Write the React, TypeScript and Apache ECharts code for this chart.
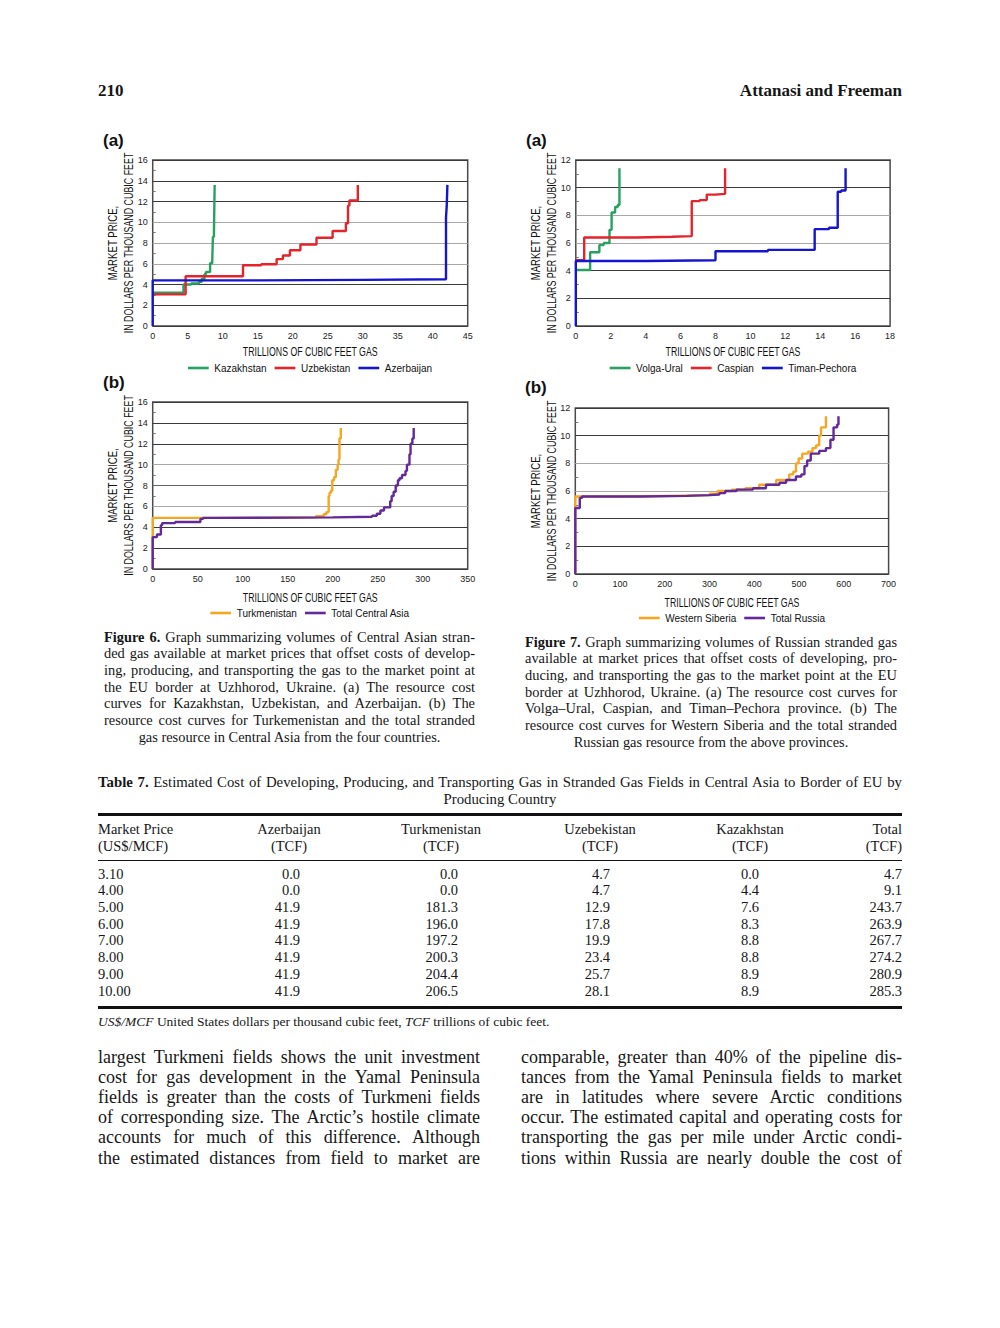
import React, { useEffect, useRef } from "react";
import * as echarts from "echarts";

type Pt = [number, number];

const CF = "'Liberation Sans',Arial,sans-serif";
const SERIF = "'Liberation Serif','Times New Roman',serif";

// ---- Figure 6 (a): Central Asia by country (x: TCF, y: $/MCF), step points
const kazakhstan: Pt[] = [[0, 3.2], [4.4, 4.0], [5.5, 4.1], [6.6, 4.25], [7.0, 4.55], [7.4, 5.0], [7.6, 5.2], [8.2, 6.05], [8.5, 6.15], [8.6, 8.6], [8.75, 9.0], [8.85, 13.6]];
const uzbekistan: Pt[] = [[0, 3.05], [4.7, 4.8], [12.9, 5.85], [15.5, 5.95], [17.7, 6.45], [18.6, 6.8], [19.6, 7.3], [21.1, 7.85], [23.4, 8.5], [25.7, 9.15], [27.6, 9.9], [27.9, 11.6], [28.1, 12.1], [29.3, 13.6]];
const azerbaijan: Pt[] = [[0, 0], [0, 4.4], [15, 4.45], [30, 4.5], [41.9, 10.5], [42.0, 11.5], [42.1, 13.6]];

// ---- Figure 7 (a): Russian provinces
const volgaUral: Pt[] = [[0, 4.05], [0.82, 5.33], [1.35, 5.85], [1.6, 6.0], [1.93, 6.95], [2.05, 8.2], [2.25, 8.6], [2.4, 8.75], [2.5, 11.4]];
const caspian: Pt[] = [[0, 4.75], [0.48, 6.4], [3.5, 6.45], [5.5, 6.5], [6.64, 9.03], [7.1, 9.1], [7.5, 9.5], [8.0, 9.55], [8.55, 11.4]];
const timanPechora: Pt[] = [[0, 0], [0, 4.7], [4, 4.75], [8.0, 5.4], [11, 5.5], [13.68, 7.0], [14.5, 7.1], [15.0, 9.7], [15.2, 9.8], [15.45, 11.4]];

// ---- Figure 6 (b)
const turkmenistan: Pt[] = [[0, 0], [0, 4.9], [120, 4.95], [181.3, 5.05], [190, 5.25], [193, 5.45], [195.5, 7.0], [196.5, 7.3], [198, 7.5], [199.5, 8.5], [201.5, 8.8], [203.5, 9.5], [205.5, 10.0], [206.5, 10.5], [207.5, 12.5], [209, 13.5]];
const totalCentralAsia: Pt[] = [[0, 0], [0, 3.05], [4.7, 3.3], [9.1, 4.2], [10.5, 4.4], [25, 4.5], [53, 4.8], [56, 4.9], [70, 4.95], [200, 5.0], [243.7, 5.1], [249, 5.3], [253, 5.6], [257, 5.9], [263.9, 6.5], [265.5, 7.0], [267.7, 7.4], [270, 8.0], [272.5, 8.5], [274.2, 8.7], [277, 9.0], [280.9, 9.4], [282.5, 10.0], [285.3, 11.0], [286.5, 12.0], [288.5, 12.5], [290, 13.5]];

// ---- Figure 7 (b)
const westernSiberia: Pt[] = [[0, 0], [0, 5.6], [100, 5.65], [200, 5.7], [300, 5.8], [318, 6.0], [350, 6.1], [380, 6.2], [411, 6.45], [449, 6.8], [478, 7.2], [487, 7.4], [493, 8.0], [499, 8.35], [507, 8.7], [520, 8.85], [530, 9.1], [538, 9.3], [545, 10.0], [549, 10.6], [560, 11.4]];
const totalRussia: Pt[] = [[0, 0], [0, 4.77], [10, 5.5], [15, 5.6], [150, 5.65], [250, 5.7], [300, 5.75], [322, 5.85], [335, 6.0], [360, 6.1], [397, 6.2], [426, 6.45], [456, 6.6], [471, 6.8], [493, 7.05], [505, 7.2], [512, 7.8], [518, 8.2], [526, 8.7], [545, 8.9], [560, 9.1], [570, 9.7], [577, 10.6], [585, 10.8], [588, 11.4]];

// ---- Table 7
const tablePrices = ["3.10", "4.00", "5.00", "6.00", "7.00", "8.00", "9.00", "10.00"];
const tAzerbaijan = [0.0, 0.0, 41.9, 41.9, 41.9, 41.9, 41.9, 41.9];
const tTurkmenistan = [0.0, 0.0, 181.3, 196.0, 197.2, 200.3, 204.4, 206.5];
const tUzbekistan = [4.7, 4.7, 12.9, 17.8, 19.9, 23.4, 25.7, 28.1];
const tKazakhstan = [0.0, 4.4, 7.6, 8.3, 8.8, 8.8, 8.9, 8.9];
const tTotal = [4.7, 9.1, 243.7, 263.9, 267.7, 274.2, 280.9, 285.3];

const GREEN = "#27a060";
const RED = "#e5232a";
const BLUE = "#1515d0";
const ORANGE = "#f5a623";
const PURPLE = "#62299a";
const D = "#3a3a3a";
const L = "#a8a8a8";

interface SeriesDef { name: string; color: string; data: Pt[] }
interface PanelDef {
  tag: string;
  xMax: number; xInterval: number; yMax: number;
  plot: { left: number; top: number; width: number; height: number };
  legendTop: number; xNameY: number; yNameX: [number, number];
  gridColors: string[];
  series: SeriesDef[];
}

function buildOption(p: PanelDef) {
  const cx = p.plot.left + p.plot.width / 2;
  const cy = p.plot.top + p.plot.height / 2;
  return {
    animation: false,
    grid: { ...p.plot, show: true, borderColor: "#4a4a4a", borderWidth: 1.5 },
    xAxis: {
      type: "value", min: 0, max: p.xMax, interval: p.xInterval,
      axisLine: { show: false }, axisTick: { show: false }, splitLine: { show: false },
      axisLabel: { fontFamily: CF, fontSize: 9, color: "#222", margin: 5 },
    },
    yAxis: {
      type: "value", min: 0, max: p.yMax, interval: 2,
      axisLine: { show: false }, axisTick: { show: false, inside: true },
      minorTick: { show: true, splitNumber: 2, length: 3, lineStyle: { color: "#777", width: 1 } },
      splitLine: { show: true, lineStyle: { color: p.gridColors, width: 1.2 } },
      axisLabel: { fontFamily: CF, fontSize: 9, color: "#222", margin: 5 },
    },
    legend: {
      top: p.legendTop, left: "center", padding: 0, itemGap: 8,
      icon: "path://M0,0H24V3H0Z", itemWidth: 22, itemHeight: 2.6,
      textStyle: { fontFamily: CF, fontSize: 10, color: "#111", padding: [0, 0, 0, 0] },
      data: p.series.map((s) => s.name),
    },
    series: p.series.map((s) => ({
      name: s.name, type: "line", step: "end", data: s.data,
      showSymbol: false, symbol: "none",
      lineStyle: { color: s.color, width: 2.4 }, itemStyle: { color: s.color },
    })),
    graphic: [
      { type: "text", left: 8, top: 4, style: { text: p.tag, font: "bold 17px 'Liberation Sans',Arial,sans-serif", fill: "#111" } },
      { type: "text", x: p.yNameX[0], y: cy, rotation: Math.PI / 2, scaleX: 0.77, style: { text: "MARKET PRICE,", font: `12.5px ${CF}`, fill: "#111", align: "center", verticalAlign: "middle" } },
      { type: "text", x: p.yNameX[1], y: cy, rotation: Math.PI / 2, scaleX: 0.71, style: { text: "IN DOLLARS PER THOUSAND CUBIC FEET", font: `12.5px ${CF}`, fill: "#111", align: "center", verticalAlign: "middle" } },
      { type: "text", x: cx, y: p.xNameY, scaleX: 0.7, style: { text: "TRILLIONS OF CUBIC FEET GAS", font: `12.5px ${CF}`, fill: "#111", align: "center", verticalAlign: "middle" } },
    ],
  };
}

function Chart({ panel, left, top, width, height }: { panel: PanelDef; left: number; top: number; width: number; height: number }) {
  const ref = useRef<HTMLDivElement>(null);
  useEffect(() => {
    if (!ref.current) return;
    const chart = echarts.init(ref.current, undefined, { renderer: "svg" });
    chart.setOption(buildOption(panel) as any);
    return () => chart.dispose();
  }, [panel]);
  return <div ref={ref} style={{ position: "absolute", left, top, width, height }} />;
}

const panel1: PanelDef = {
  tag: "(a)", xMax: 45, xInterval: 5, yMax: 16,
  plot: { left: 57.7, top: 32, width: 315, height: 166 },
  legendTop: 235, xNameY: 223, yNameX: [18, 33],
  gridColors: [D, D, D, L, L, L, D, D, D],
  series: [
    { name: "Kazakhstan", color: GREEN, data: kazakhstan },
    { name: "Uzbekistan", color: RED, data: uzbekistan },
    { name: "Azerbaijan", color: BLUE, data: azerbaijan },
  ],
};
const panel2: PanelDef = {
  tag: "(a)", xMax: 18, xInterval: 2, yMax: 12,
  plot: { left: 57.8, top: 32, width: 314.3, height: 166 },
  legendTop: 235, xNameY: 223, yNameX: [18, 33.5],
  gridColors: [D, D, D, L, L, D, D],
  series: [
    { name: "Volga-Ural", color: GREEN, data: volgaUral },
    { name: "Caspian", color: RED, data: caspian },
    { name: "Timan-Pechora", color: BLUE, data: timanPechora },
  ],
};
const panel3: PanelDef = {
  tag: "(b)", xMax: 350, xInterval: 50, yMax: 16,
  plot: { left: 57.7, top: 32, width: 315, height: 167 },
  legendTop: 238, xNameY: 227, yNameX: [18, 33],
  gridColors: [D, D, D, L, "#666", L, D, D, D],
  series: [
    { name: "Turkmenistan", color: ORANGE, data: turkmenistan },
    { name: "Total Central Asia", color: PURPLE, data: totalCentralAsia },
  ],
};
const panel4: PanelDef = {
  tag: "(b)", xMax: 700, xInterval: 100, yMax: 12,
  plot: { left: 58.3, top: 33, width: 313.3, height: 166 },
  legendTop: 238, xNameY: 227, yNameX: [18.5, 34],
  gridColors: [D, D, D, L, L, D, D],
  series: [
    { name: "Western Siberia", color: ORANGE, data: westernSiberia },
    { name: "Total Russia", color: PURPLE, data: totalRussia },
  ],
};

function JLine({ x, y, w, size, lh, children, center }: any) {
  return (
    <div style={{
      position: "absolute", left: x, top: y - lh / 2, width: w, height: lh, lineHeight: `${lh}px`,
      fontSize: size, whiteSpace: "nowrap",
      textAlign: center ? "center" : "justify", textAlignLast: center ? "center" : "justify",
    }}>{children}</div>
  );
}

const fig6Lines: any[] = [
  <><b>Figure 6.</b> Graph summarizing volumes of Central Asian stran-</>,
  "ded gas available at market prices that offset costs of develop-",
  "ing, producing, and transporting the gas to the market point at",
  "the EU border at Uzhhorod, Ukraine. (a) The resource cost",
  "curves for Kazakhstan, Uzbekistan, and Azerbaijan. (b) The",
  "resource cost curves for Turkemenistan and the total stranded",
];
const fig6Last = "gas resource in Central Asia from the four countries.";
const fig7Lines: any[] = [
  <><b>Figure 7.</b> Graph summarizing volumes of Russian stranded gas</>,
  "available at market prices that offset costs of developing, pro-",
  "ducing, and transporting the gas to the market point at the EU",
  "border at Uzhhorod, Ukraine. (a) The resource cost curves for",
  "Volga–Ural, Caspian, and Timan–Pechora province. (b) The",
  "resource cost curves for Western Siberia and the total stranded",
];
const fig7Last = "Russian gas resource from the above provinces.";

const bodyLeft = [
  "largest Turkmeni fields shows the unit investment",
  "cost for gas development in the Yamal Peninsula",
  "fields is greater than the costs of Turkmeni fields",
  "of corresponding size. The Arctic’s hostile climate",
  "accounts for much of this difference. Although",
  "the estimated distances from field to market are",
];
const bodyRight = [
  "comparable, greater than 40% of the pipeline dis-",
  "tances from the Yamal Peninsula fields to market",
  "are in latitudes where severe Arctic conditions",
  "occur. The estimated capital and operating costs for",
  "transporting the gas per mile under Arctic condi-",
  "tions within Russia are nearly double the cost of",
];

const tableCols = [
  { head: ["Azerbaijan", "(TCF)"], center: 289, right: 300, vals: tAzerbaijan },
  { head: ["Turkmenistan", "(TCF)"], center: 441, right: 458, vals: tTurkmenistan },
  { head: ["Uzebekistan", "(TCF)"], center: 600, right: 610, vals: tUzbekistan },
  { head: ["Kazakhstan", "(TCF)"], center: 750, right: 759, vals: tKazakhstan },
];

function Cell({ x, y, align, children, size = 14.5 }: any) {
  const lh = 17;
  const style: any = { position: "absolute", top: y - lh / 2, height: lh, lineHeight: `${lh}px`, fontSize: size, whiteSpace: "nowrap" };
  if (align === "left") { style.left = x; }
  else if (align === "right") { style.right = 1000 - x; }
  else { style.left = x - 100; style.width = 200; style.textAlign = "center"; }
  return <div style={style}>{children}</div>;
}

export default function App() {
  const rowY = (i: number) => 874 + i * 16.73;
  return (
    <div style={{ position: "absolute", left: 0, top: 0, width: 1000, height: 1328, background: "#fff", fontFamily: SERIF, color: "#161616", overflow: "hidden" }}>
      <Cell x={98} y={90} align="left" size={17}><b>210</b></Cell>
      <Cell x={902} y={90} align="right" size={17}><b>Attanasi and Freeman</b></Cell>

      <Chart panel={panel1} left={95} top={128} width={430} height={252} />
      <Chart panel={panel2} left={518} top={128} width={430} height={252} />
      <Chart panel={panel3} left={95} top={370} width={430} height={255} />
      <Chart panel={panel4} left={517.4} top={375} width={430} height={255} />

      {fig6Lines.map((t, i) => <JLine key={"f6" + i} x={104} y={637 + i * 16.7} w={371} size={14.4} lh={17}>{t}</JLine>)}
      <JLine x={104} y={637 + 6 * 16.7} w={371} size={14.4} lh={17} center>{fig6Last}</JLine>
      {fig7Lines.map((t, i) => <JLine key={"f7" + i} x={525} y={642 + i * 16.7} w={372} size={14.4} lh={17}>{t}</JLine>)}
      <JLine x={525} y={642 + 6 * 16.7} w={372} size={14.4} lh={17} center>{fig7Last}</JLine>

      <JLine x={98} y={782} w={804} size={14.8} lh={17}><b>Table 7.</b> Estimated Cost of Developing, Producing, and Transporting Gas in Stranded Gas Fields in Central Asia to Border of EU by</JLine>
      <JLine x={98} y={799} w={804} size={14.8} lh={17} center>Producing Country</JLine>

      <div style={{ position: "absolute", left: 98, top: 813, width: 804, height: 3, background: "#111" }} />
      <div style={{ position: "absolute", left: 98, top: 860, width: 804, height: 1.3, background: "#111" }} />
      <div style={{ position: "absolute", left: 98, top: 1005.5, width: 804, height: 3, background: "#111" }} />

      <Cell x={98} y={829} align="left">Market Price</Cell>
      <Cell x={98} y={846} align="left">(US$/MCF)</Cell>
      {tableCols.map((c, ci) => (
        <React.Fragment key={"h" + ci}>
          <Cell x={c.center} y={829}>{c.head[0]}</Cell>
          <Cell x={c.center} y={846}>{c.head[1]}</Cell>
        </React.Fragment>
      ))}
      <Cell x={902} y={829} align="right">Total</Cell>
      <Cell x={902} y={846} align="right">(TCF)</Cell>

      {tablePrices.map((p, i) => (
        <React.Fragment key={"r" + i}>
          <Cell x={98} y={rowY(i)} align="left">{p}</Cell>
          {tableCols.map((c, ci) => <Cell key={ci} x={c.right} y={rowY(i)} align="right">{c.vals[i].toFixed(1)}</Cell>)}
          <Cell x={902} y={rowY(i)} align="right">{tTotal[i].toFixed(1)}</Cell>
        </React.Fragment>
      ))}

      <Cell x={98} y={1021} align="left" size={13.5}><i>US$/MCF</i> United States dollars per thousand cubic feet, <i>TCF</i> trillions of cubic feet.</Cell>

      {bodyLeft.map((t, i) => <JLine key={"bl" + i} x={98} y={1057 + i * 20.1} w={382} size={18} lh={20}>{t}</JLine>)}
      {bodyRight.map((t, i) => <JLine key={"br" + i} x={521} y={1057 + i * 20.1} w={381} size={18} lh={20}>{t}</JLine>)}
    </div>
  );
}
